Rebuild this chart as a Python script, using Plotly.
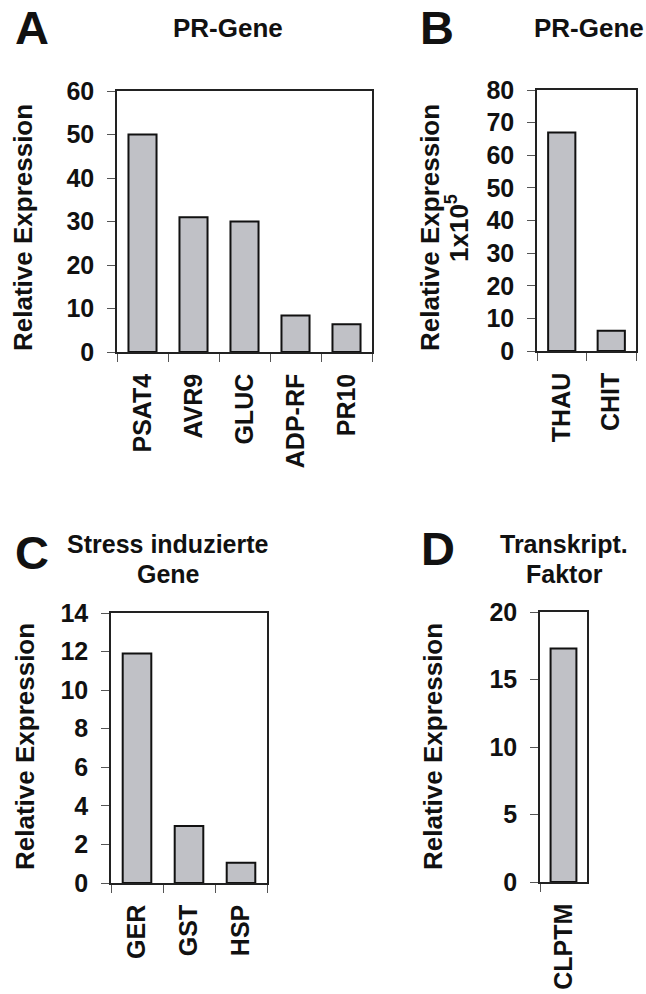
import plotly.graph_objects as go

# ---- data ----
cats_a = ["PSAT4", "AVR9", "GLUC", "ADP-RF", "PR10"]
vals_a = [50, 31, 30, 8.4, 6.4]
cats_b = ["THAU", "CHIT"]
vals_b = [67, 6.2]
cats_c = ["GER", "GST", "HSP"]
vals_c = [11.9, 2.95, 1.05]
cats_d = ["CLPTM"]
vals_d = [17.3]

W, H = 646, 994
FONT = "Liberation Sans, Arial, sans-serif"
BAR = "#c0c1c6"
LINE = "#222222"

def px_x(p):
    return p / W

def px_y(p):
    return 1 - p / H

fig = go.Figure()

panels = [
    # cats, vals, x-domain px, y-domain px, yrange, dtick
    (cats_a, vals_a, (117, 372), (91, 352), 60, 10),
    (cats_b, vals_b, (537, 636), (90, 351), 80, 10),
    (cats_c, vals_c, (111, 267), (613, 883), 14, 2),
    (cats_d, vals_d, (540, 587), (612, 882), 20, 5),
]

for i, (cats, vals, xd, yd, ymax, dt) in enumerate(panels, start=1):
    sfx = "" if i == 1 else str(i)
    fig.add_trace(go.Bar(
        x=cats, y=vals, xaxis="x" + sfx, yaxis="y" + sfx,
        marker=dict(color=BAR, line=dict(color="#111111", width=2)),
        showlegend=False, hoverinfo="x+y",
    ))
    fig.layout["xaxis" + sfx] = dict(
        domain=[px_x(xd[0]), px_x(xd[1])], anchor="y" + sfx,
        type="category", tickson="boundaries", ticks="outside", ticklen=8,
        tickwidth=1, tickcolor="#555555", tickangle=-90, automargin=False,
        showline=True, mirror=True, linecolor=LINE, linewidth=1.5,
        showgrid=False, zeroline=False, ticklabelstandoff=10,
        tickfont=dict(family=FONT, size=25, color="#111111", weight="bold"),
    )
    fig.layout["yaxis" + sfx] = dict(
        domain=[px_y(yd[1]), px_y(yd[0])], anchor="x" + sfx,
        range=[0, ymax], dtick=dt, tick0=0, ticks="outside", ticklen=8,
        tickwidth=1, tickcolor="#555555", automargin=False,
        showline=True, mirror=True, linecolor=LINE, linewidth=1.5,
        showgrid=False, zeroline=False, ticklabelstandoff=8,
        tickfont=dict(family=FONT, size=25, color="#111111", weight="bold"),
    )

ann = []

def text(x, y, s, size=26, angle=0):
    ann.append(dict(
        x=px_x(x), y=px_y(y), xref="paper", yref="paper", text=s,
        showarrow=False, textangle=angle, xanchor="center", yanchor="middle",
        font=dict(family=FONT, size=size, color="#111111", weight="bold"),
    ))

# panel letters
text(32, 28, "A", size=47)
text(437, 28, "B", size=47)
text(32, 552, "C", size=47)
text(438, 548, "D", size=47)

# titles
text(228, 28, "PR-Gene")
text(589, 28, "PR-Gene")
text(168, 544, "Stress induzierte", size=25)
text(168, 574, "Gene", size=25)
text(564, 544, "Transkript.", size=25)
text(564, 574, "Faktor", size=25)

# y-axis labels
text(23, 228, "Relative Expression", angle=-90)
text(430, 228, "Relative Expression", angle=-90)
text(458, 228, "1x10<sup>5</sup>", angle=-90)
text(25, 747, "Relative Expression", angle=-90)
text(433, 747, "Relative Expression", angle=-90)

fig.update_layout(
    template="none",
    width=W, height=H, margin=dict(l=0, r=0, t=0, b=0, autoexpand=False),
    paper_bgcolor="white", plot_bgcolor="white",
    bargap=0.45, annotations=ann,
    font=dict(family=FONT, color="#111111"),
)

fig.write_html("out.html")
